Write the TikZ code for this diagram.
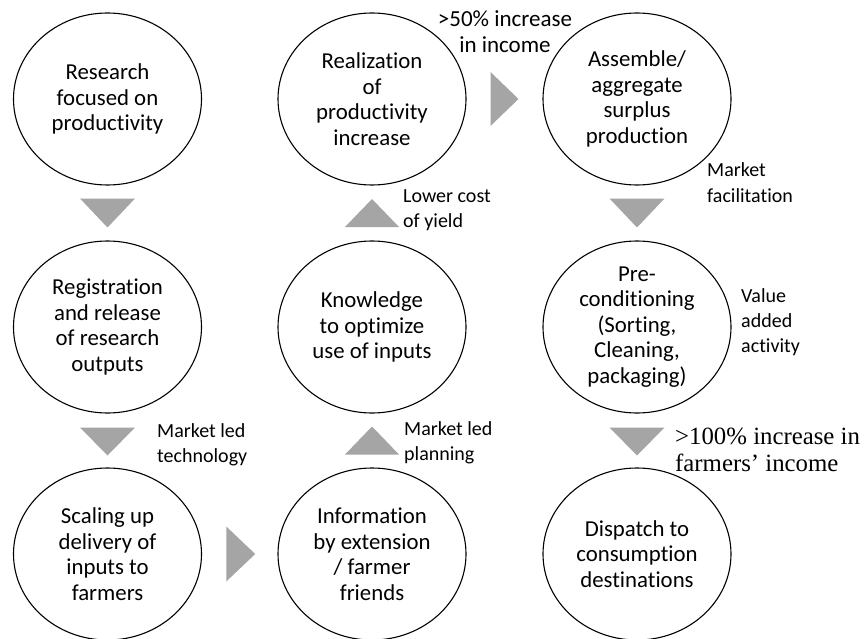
\documentclass[tikz,border=0pt]{standalone}
\usepackage{fontspec}
\setmainfont{Carlito}[Ligatures=NoCommon]
\newfontfamily\serifx{Liberation Serif}
\usetikzlibrary{shapes.geometric,calc}
\definecolor{trigray}{HTML}{A5A5A5}
\begin{document}
\begin{tikzpicture}[x=1pt,y=-1pt,
  stage/.style={ellipse,draw=black,line width=1.1pt,minimum width=188pt,minimum height=172pt,inner sep=0pt,align=center,font=\fontsize{22.8}{25.5}\selectfont},
  tri/.style={fill=trigray},
  lab/.style={inner sep=0pt,anchor=base west,align=left,font=\fontsize{20}{25}\selectfont}]
\useasboundingbox (0,0) rectangle (864,639);
% column 1
\node[stage] (c1) at (107.5,99) {Research\\focused on\\productivity};
\node[stage] (c2) at (107.5,327) {Registration\\and release\\of research\\outputs};
\node[stage] (c3) at (107.5,554) {Scaling up\\delivery of\\inputs to\\farmers};
% column 2
\node[stage] (d3) at (372,554) {Information\\by extension\\/ farmer\\friends};
\node[stage] (d2) at (372,327) {Knowledge\\to optimize\\use of inputs};
\node[stage] (d1) at (372,99) {Realization\\of\\productivity\\increase};
% column 3
\node[stage] (e1) at (637,99) {Assemble/\\aggregate\\surplus\\production};
\node[stage] (e2) at (637,327) {Pre-\\conditioning\\(Sorting,\\Cleaning,\\packaging)};
\node[stage] (e3) at (637,554) {Dispatch to\\consumption\\destinations};
% arrow triangles
\coordinate (m12) at ($(c1.south)!0.5!(c2.north)$);
\coordinate (m23) at ($(c2.south)!0.5!(c3.north)$);
\coordinate (mcd) at ($(c3.east)!0.5!(d3.west)$);
\coordinate (m32) at ($(d3.north)!0.5!(d2.south)$);
\coordinate (m21) at ($(d2.north)!0.5!(d1.south)$);
\coordinate (mde) at ($(d1.east)!0.5!(e1.west)$);
\coordinate (n12) at ($(e1.south)!0.5!(e2.north)$);
\coordinate (n23) at ($(e2.south)!0.5!(e3.north)$);
\fill[tri] ($(m12)+(-27.5,-14.5)$) -- ($(m12)+(27.5,-14.5)$) -- ($(m12)+(0,14.5)$) -- cycle;
\fill[tri] ($(m23)+(-27.5,-13)$) -- ($(m23)+(27.5,-13)$) -- ($(m23)+(0,15)$) -- cycle;
\fill[tri] ($(mcd)+(-13.5,-27.5)$) -- ($(mcd)+(-13.5,27.5)$) -- ($(mcd)+(15.5,0)$) -- cycle;
\fill[tri] ($(m32)+(-27,14)$) -- ($(m32)+(27,14)$) -- ($(m32)+(0,-14)$) -- cycle;
\fill[tri] ($(m21)+(-27,14)$) -- ($(m21)+(27,14)$) -- ($(m21)+(0,-14)$) -- cycle;
\fill[tri] ($(mde)+(-14,-27)$) -- ($(mde)+(-14,27)$) -- ($(mde)+(14,0)$) -- cycle;
\fill[tri] ($(n12)+(-27.5,-14.5)$) -- ($(n12)+(27.5,-14.5)$) -- ($(n12)+(0,14.5)$) -- cycle;
\fill[tri] ($(n23)+(-27.5,-13)$) -- ($(n23)+(27.5,-13)$) -- ($(n23)+(0,15)$) -- cycle;
% labels (anchor = baseline of the last line)
\node[inner sep=0pt,anchor=base,align=center,font=\fontsize{23}{26}\selectfont] (l50) at (505,53) {>50\% increase\\in income};
\node[lab] (llc) at (403,227) {Lower cost\\of yield};
\node[lab] (lmf) at (707,202) {Market\\facilitation};
\node[lab] (lva) at (741,352) {Value\\added\\activity};
\node[lab] (lmt) at (157,462) {Market led\\technology};
\node[lab] (lmp) at (404,460) {Market led\\planning};
\node[lab,font=\serifx\fontsize{24.8}{27}\selectfont] (l100) at (675,471) {>100\% increase in\\farmers’ income};
\end{tikzpicture}
\end{document}
